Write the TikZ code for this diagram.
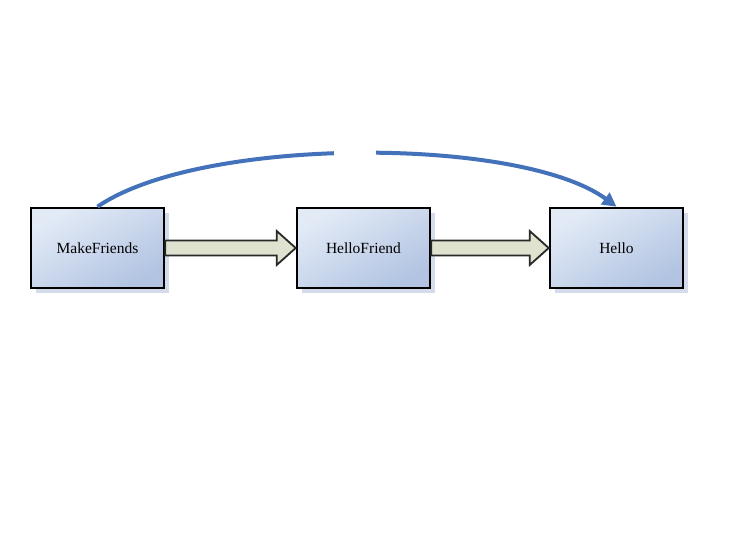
\documentclass[tikz,border=0pt]{standalone}
\usepackage{fontspec}
\setmainfont{Liberation Serif}
\usetikzlibrary{shadows,calc,arrows.meta}
\definecolor{boxlight}{RGB}{226,234,246}
\definecolor{boxdark}{RGB}{178,196,226}
\definecolor{shadowc}{RGB}{212,220,236}
\definecolor{arrowfill}{RGB}{222,226,206}
\definecolor{arrowline}{RGB}{40,40,40}
\definecolor{curvec}{RGB}{68,114,186}
\tikzset{
  box/.style={draw=black, line width=2.6pt, minimum width=133pt, minimum height=80pt, inner sep=0pt,
    top color=boxlight, bottom color=boxdark, shading angle=30,
    drop shadow={shadow xshift=5pt, shadow yshift=-5pt, fill=shadowc, opacity=1},
    font=\fontsize{15.5}{18}\selectfont},
  blockarrow/.style={draw=arrowline, line width=1.8pt, fill=arrowfill, line join=miter},
  curvearrow/.style={draw=curvec, line width=4pt, -{Triangle[length=14pt,width=14pt]}}
}
\begin{document}
\begin{tikzpicture}[x=1pt,y=-1pt]
\useasboundingbox[fill=white] (0,0) rectangle (732,533);
\node[box] (mf) at (97.5,248) {MakeFriends};
\node[box] (hf) at (363.5,248) {HelloFriend};
\node[box] (he) at (616.5,248) {Hello};
\draw[blockarrow] ($(mf.east)+(0,-7.5)$) -- ($(hf.west)+(-19,-7.5)$) -- ($(hf.west)+(-19,-17)$) -- (hf.west)
  -- ($(hf.west)+(-19,17)$) -- ($(hf.west)+(-19,7.5)$) -- ($(mf.east)+(0,7.5)$) -- cycle;
\draw[blockarrow] ($(hf.east)+(0,-7.5)$) -- ($(he.west)+(-19,-7.5)$) -- ($(he.west)+(-19,-17)$) -- (he.west)
  -- ($(he.west)+(-19,17)$) -- ($(he.west)+(-19,7.5)$) -- ($(hf.east)+(0,7.5)$) -- cycle;
\draw[curvearrow] (mf.north) .. controls (200,136) and (520,136) .. (he.north);
\fill[white] (334,144) rectangle (376,163);
\end{tikzpicture}
\end{document}
